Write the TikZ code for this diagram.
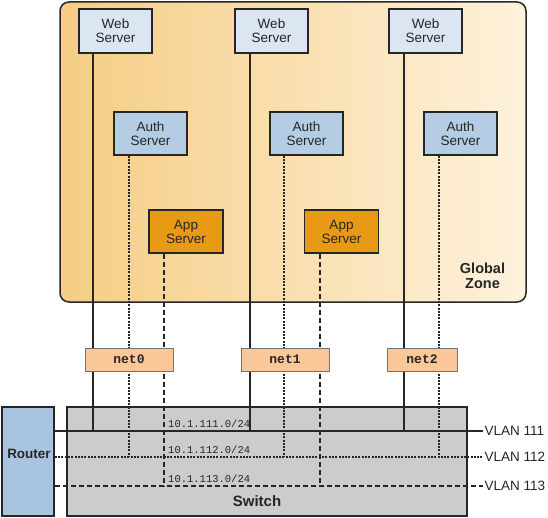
\documentclass[tikz,border=0pt]{standalone}
\usepackage{fontspec}
\setmainfont{Liberation Sans}
\setmonofont{Liberation Mono}
\definecolor{webc}{HTML}{DCE6F2}
\definecolor{authc}{HTML}{B4CCE4}
\definecolor{appc}{HTML}{E99A14}
\definecolor{netc}{HTML}{FAC898}
\definecolor{switchc}{HTML}{CCCCCC}
\definecolor{routerc}{HTML}{A8C4E0}
\definecolor{zoneL}{HTML}{F5CD84}
\definecolor{zoneR}{HTML}{FEF2DC}
\definecolor{ink}{HTML}{262626}
\begin{document}
\begin{tikzpicture}[x=1pt,y=-1pt,
  box/.style={draw=ink,line width=1.5pt,align=center,font=\fontsize{13.5}{14}\selectfont,text=ink,inner sep=0pt},
  web/.style={box,fill=webc,minimum width=73pt,minimum height=44pt},
  auth/.style={box,fill=authc,minimum width=73pt,minimum height=43pt},
  app/.style={box,fill=appc,minimum width=74pt,minimum height=43pt},
  netbox/.style={draw=black!55,line width=0.9pt,fill=netc,minimum height=23pt,font=\ttfamily\bfseries\fontsize{13}{13}\selectfont,text=ink,inner sep=0pt},
  solidl/.style={line width=1.7pt,draw=ink},
  dotl/.style={line width=1.6pt,draw=ink,dash pattern=on 2pt off 1.3pt},
  dashl/.style={line width=1.6pt,draw=ink,dash pattern=on 5pt off 3pt},
  subnet/.style={font=\ttfamily\fontsize{10.5}{10.5}\selectfont,anchor=west,inner sep=0pt,text=ink},
  vlan/.style={font=\fontsize{13.5}{13.5}\selectfont,anchor=west,inner sep=0pt,text=ink},
  bigbox/.style={draw=ink,line width=1.5pt,inner sep=0pt}
]
\useasboundingbox (0,0) rectangle (548,518);

% background containers
\node[bigbox,rounded corners=9pt,left color=zoneL,right color=zoneR,
      minimum width=466pt,minimum height=300pt] (zone) at (293,152) {};
\node[bigbox,fill=switchc,minimum width=400pt,minimum height=109pt] (switch) at (267,461.5) {};
\node[bigbox,fill=routerc,minimum width=52pt,minimum height=109pt] (router) at (28,461.5) {};

% servers
\node[web] (w1) at (115.5,31) {Web\\Server};
\node[web] (w2) at (271.5,31) {Web\\Server};
\node[web] (w3) at (425.5,31) {Web\\Server};
\node[auth] (a1) at (150.5,133.5) {Auth\\Server};
\node[auth] (a2) at (306.5,133.5) {Auth\\Server};
\node[auth] (a3) at (460.5,133.5) {Auth\\Server};
\node[app] (p1) at (186,231.5) {App\\Server};
\node[app] (p2) at (341.5,231.5) {App\\Server};

% VLAN levels
\coordinate (y1) at (0,431);
\coordinate (y2) at (0,457);
\coordinate (y3) at (0,486);
\coordinate (e1) at (483,431);
\coordinate (e2) at (483,457);
\coordinate (e3) at (483,486);

% drop points
\coordinate (dw1) at ([xshift=15pt]w1.south west);
\coordinate (dw2) at ([xshift=16pt]w2.south west);
\coordinate (dw3) at ([xshift=16pt]w3.south west);
\coordinate (da1) at ([xshift=16pt]a1.south west);
\coordinate (da2) at ([xshift=15pt]a2.south west);
\coordinate (da3) at ([xshift=16pt]a3.south west);
\coordinate (dp1) at ([xshift=16pt]p1.south west);
\coordinate (dp2) at ([xshift=16pt]p2.south west);

% VLAN lines
\draw[solidl] (router.east |- y1) -- (e1);
\draw[dotl] (router.east |- y2) -- (e2);
\draw[dashl] (router.east |- y3) -- (e3);

% drops
\draw[solidl] (dw1) -- (dw1 |- y1);
\draw[solidl] (dw2) -- (dw2 |- y1);
\draw[solidl] (dw3) -- (dw3 |- y1);
\draw[dotl] (da1) -- (da1 |- y2);
\draw[dotl] (da2) -- (da2 |- y2);
\draw[dotl] (da3) -- (da3 |- y2);
\draw[dashl] (dp1) -- (dp1 |- y3);
\draw[dashl] (dp2) -- (dp2 |- y3);

% net interfaces
\node[netbox,minimum width=88pt] (n0) at (129,359.5) {net0};
\node[netbox,minimum width=88pt] (n1) at (285,359.5) {net1};
\node[netbox,minimum width=70pt] (n2) at (422,359.5) {net2};

% labels
\node[font=\bfseries\fontsize{14.5}{15}\selectfont,align=center,text=ink,inner sep=0pt] (gz) at (482.5,275.5) {Global\\Zone};
\node[font=\bfseries\fontsize{15}{15}\selectfont,text=ink,inner sep=0pt] (swl) at (257,501) {Switch};
\node[font=\bfseries\fontsize{13.5}{14}\selectfont,text=ink,inner sep=0pt] (rl) at (29,454) {Router};
\node[subnet] (s1) at (168,424) {10.1.111.0/24};
\node[subnet] (s2) at (168,450) {10.1.112.0/24};
\node[subnet] (s3) at (168,479) {10.1.113.0/24};
\node[vlan] (l1) at ([xshift=1.5pt]e1) {VLAN 111};
\node[vlan] (l2) at ([xshift=1.5pt]e2) {VLAN 112};
\node[vlan] (l3) at ([xshift=1.5pt]e3) {VLAN 113};
\end{tikzpicture}
\end{document}
